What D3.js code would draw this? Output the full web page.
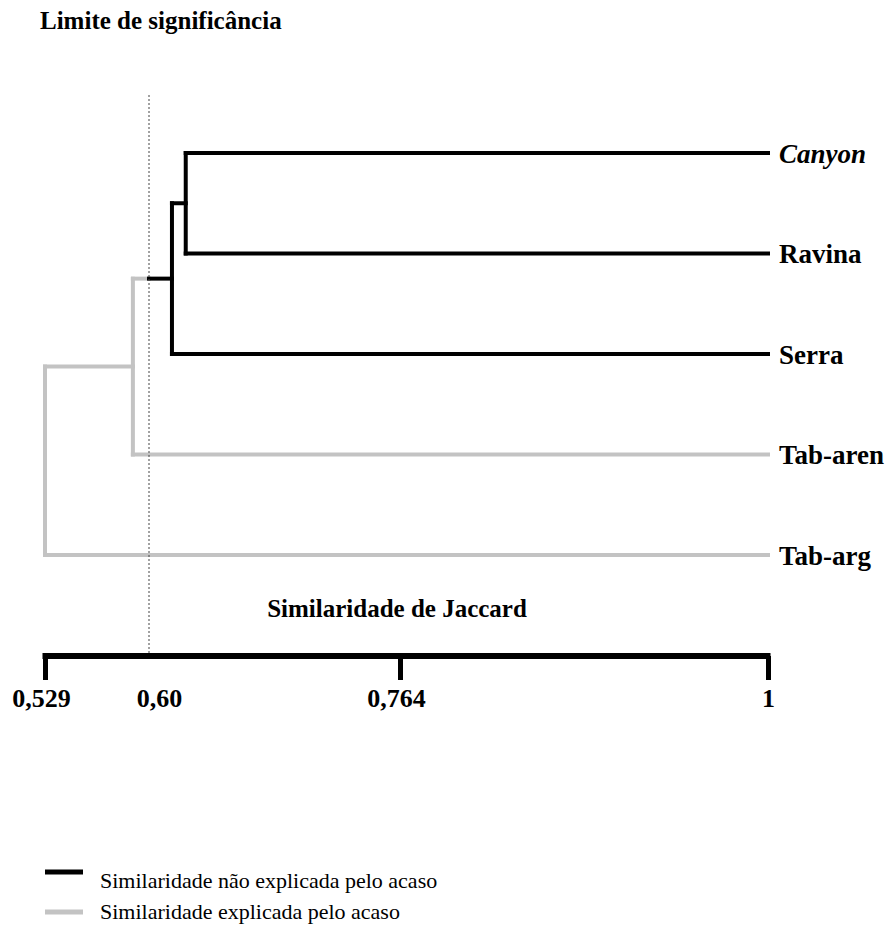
<!DOCTYPE html>
<html>
<head>
<meta charset="utf-8">
<script src="https://cdn.jsdelivr.net/npm/d3@7"></script>
<style>
  html, body { margin: 0; padding: 0; background: #fff; }
  svg { display: block; font-family: "Liberation Serif", "Times New Roman", serif; }
</style>
</head>
<body>
<svg id="chart" width="894" height="935"></svg>
<script>
// ---- data ----
const leaves = ["Canyon", "Ravina", "Serra", "Tab-aren", "Tab-arg"];
const italicLeaves = ["Canyon"];
// merges: [childA, childB] joined at similarity
const mergeNames = ["m1", "m2", "m3", "m4"];
const mergeChildren = [["Canyon", "Ravina"], ["m1", "Serra"], ["m2", "Tab-aren"], ["m3", "Tab-arg"]];
const mergeSimilarity = [0.624, 0.615, 0.589, 0.529];
const leafSimilarity = 1;
const threshold = 0.60;
const tickValues = [0.529, 0.60, 0.764, 1];
const tickLabels = ["0,529", "0,60", "0,764", "1"];
const title = "Limite de significância";
const xTitle = "Similaridade de Jaccard";
const legendLabels = ["Similaridade não explicada pelo acaso", "Similaridade explicada pelo acaso"];

// ---- drawing ----
const BLACK = "#000", GREY = "#c3c3c3";
const FONT = "'Liberation Serif', 'Times New Roman', serif";
const svg = d3.select("#chart");

const x = d3.scaleLinear().domain(tickValues).range([45, 149, 400, 768]);
const y = d3.scalePoint().domain(leaves).range([153, 555]);

// node table
const nodes = {};
leaves.forEach(l => nodes[l] = { name: l, sim: leafSimilarity, y: y(l), leaf: true });
mergeNames.forEach((m, i) => {
  const [a, b] = mergeChildren[i];
  nodes[m] = { name: m, sim: mergeSimilarity[i], y: (nodes[a].y + nodes[b].y) / 2, children: [a, b] };
  nodes[a].parent = m; nodes[b].parent = m;
});
const significant = n => !n.leaf && n.sim > threshold;

const g = svg.append("g");
const segs = [];
mergeNames.forEach(m => {
  const p = nodes[m];
  const pc = significant(p) ? BLACK : GREY;
  const ys = p.children.map(c => nodes[c].y);
  segs.push({ x1: x(p.sim), x2: x(p.sim), y1: d3.min(ys), y2: d3.max(ys), color: pc });
  p.children.forEach(cName => {
    const c = nodes[cName];
    if (significant(c) && !significant(p)) {
      segs.push({ x1: x(c.sim), x2: x(threshold), y1: c.y, y2: c.y, color: BLACK });
      segs.push({ x1: x(threshold), x2: x(p.sim), y1: c.y, y2: c.y, color: GREY });
    } else {
      segs.push({ x1: x(c.sim), x2: x(p.sim), y1: c.y, y2: c.y, color: pc });
    }
  });
});
segs.sort((a, b) => (a.color === BLACK) - (b.color === BLACK));
g.selectAll("line.seg").data(segs).join("line")
  .attr("class", "seg")
  .attr("x1", d => d.x1).attr("x2", d => d.x2)
  .attr("y1", d => d.y1).attr("y2", d => d.y2)
  .attr("stroke", d => d.color)
  .attr("stroke-width", 4)
  .attr("stroke-linecap", "square");

// leaf labels
g.selectAll("text.leaf").data(leaves).join("text")
  .attr("class", "leaf")
  .attr("x", x(leafSimilarity) + 11)
  .attr("y", d => y(d))
  .attr("dy", "0.36em")
  .attr("font-family", FONT)
  .attr("font-size", 27)
  .attr("font-weight", "bold")
  .attr("font-style", d => italicLeaves.includes(d) ? "italic" : "normal")
  .text(d => d);

// significance line
svg.append("line")
  .attr("x1", x(threshold)).attr("x2", x(threshold))
  .attr("y1", 95).attr("y2", 656)
  .attr("stroke", "#444").attr("stroke-width", 1)
  .attr("stroke-dasharray", "2,2");

// title
svg.append("text")
  .attr("x", 40).attr("y", 29)
  .attr("font-family", FONT)
  .attr("font-size", 25).attr("font-weight", "bold")
  .text(title);

// x axis
const axis = d3.axisBottom(x)
  .tickValues(tickValues)
  .tickFormat((d, i) => tickLabels[i])
  .tickSize(24).tickSizeOuter(0).tickPadding(9);
const ax = svg.append("g").attr("transform", "translate(0,656)").call(axis);
ax.select(".domain").attr("stroke", BLACK).attr("stroke-width", 6).attr("d", `M${x(tickValues[0]) - 2.5},0H${x(1) + 2.5}`);
ax.selectAll(".tick line").attr("stroke", BLACK).attr("stroke-width", 5)
  .attr("stroke-opacity", d => d === threshold ? 0 : 1);
ax.selectAll(".tick text")
  .attr("font-family", FONT)
  .attr("font-size", 26).attr("font-weight", "bold").attr("fill", BLACK)
  .attr("dx", d => d === threshold ? 10 : (d === 1 ? 0 : -4));

svg.append("text")
  .attr("x", 397).attr("y", 617)
  .attr("text-anchor", "middle")
  .attr("font-family", FONT)
  .attr("font-size", 25).attr("font-weight", "bold")
  .text(xTitle);

// legend
const legendColors = [BLACK, GREY];
const lg = svg.append("g");
const ly = d3.scalePoint().domain(legendLabels).range([880, 911]);
lg.selectAll("line").data(legendLabels).join("line")
  .attr("x1", 45).attr("x2", 83)
  .attr("y1", (d, i) => ly(d) + (i === 0 ? -8 : 1))
  .attr("y2", (d, i) => ly(d) + (i === 0 ? -8 : 1))
  .attr("stroke", (d, i) => legendColors[i]).attr("stroke-width", 5);
lg.selectAll("text").data(legendLabels).join("text")
  .attr("x", 100).attr("y", d => ly(d))
  .attr("dy", "0.35em")
  .attr("font-family", FONT)
  .attr("font-size", 22)
  .text(d => d);
</script>
</body>
</html>
